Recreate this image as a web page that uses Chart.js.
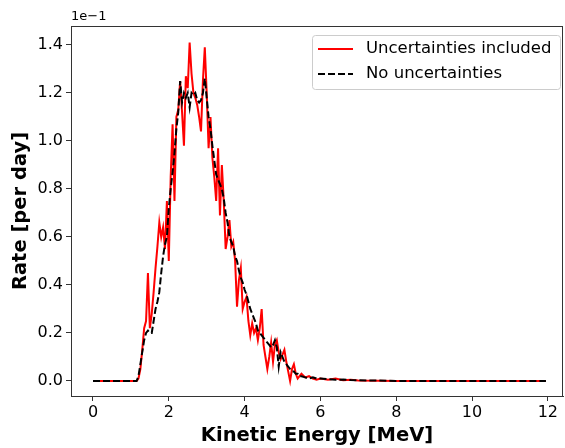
<!DOCTYPE html>
<html>
<head>
<meta charset="utf-8">
<script src="https://cdn.jsdelivr.net/npm/chart.js@4.4.1/dist/chart.umd.min.js"></script>
<style>
  html, body { margin: 0; padding: 0; background: #fff; }
  #wrap { width: 565px; height: 448px; }
</style>
</head>
<body>
<div id="wrap"><canvas id="rateChart" width="565" height="448"></canvas></div>
<script>
// energies in MeV, rates in units of 1e-1 per day
var energies = [0, 0.5, 1.0, 1.1,
  1.15, 1.2, 1.25, 1.3, 1.35, 1.4, 1.45, 1.5, 1.55, 1.6, 1.65, 1.7, 1.75, 1.8, 1.85, 1.9, 1.95,
  2.0, 2.05, 2.1, 2.15, 2.2, 2.25, 2.3, 2.35, 2.4, 2.45, 2.5, 2.55, 2.6, 2.65, 2.7, 2.75, 2.8, 2.85, 2.9, 2.95,
  3.0, 3.05, 3.1, 3.15, 3.2, 3.25, 3.3, 3.35, 3.4, 3.45, 3.5, 3.55, 3.6, 3.65, 3.7, 3.75, 3.8, 3.85, 3.9, 3.95,
  4.0, 4.05, 4.1, 4.15, 4.2, 4.25, 4.3, 4.35, 4.4, 4.45, 4.5, 4.55, 4.6, 4.65, 4.7, 4.75, 4.8, 4.85, 4.9, 4.95,
  5.0, 5.05, 5.1, 5.15, 5.2, 5.25, 5.3, 5.35, 5.4, 5.45, 5.5,
  5.6, 5.7, 5.8, 5.9, 6.0, 6.2, 6.4, 6.6, 6.8, 7.0, 7.5, 8.0, 9.0, 10.0, 11.0, 11.95];

var withUncertainty = [0, 0, 0, 0,
  0, 0.01, 0.05, 0.13, 0.22, 0.25, 0.45, 0.22, 0.28, 0.37, 0.47, 0.56, 0.66, 0.6, 0.64, 0.55, 0.75,
  0.5, 0.85, 1.07, 0.75, 1.1, 1.13, 1.25, 1.12, 0.98, 1.27, 1.22, 1.41, 1.28, 1.2, 1.18, 1.15, 1.1, 1.04, 1.25, 1.39,
  1.2, 0.97, 1.1, 0.93, 0.85, 0.75, 0.97, 0.69, 0.9, 0.75, 0.55, 0.6, 0.67, 0.56, 0.58, 0.5, 0.31, 0.42, 0.47, 0.3,
  0.33, 0.35, 0.25, 0.19, 0.24, 0.2, 0.22, 0.17, 0.22, 0.3, 0.15, 0.1, 0.05, 0.1, 0.16, 0.08, 0.15, 0.17, 0.12, 0.09,
  0.11, 0.13, 0.08, 0.04, 0.0, 0.05, 0.07, 0.03, 0.01, 0.02, 0.03,
  0.015, 0.02, 0.01, 0.005, 0.01, 0.005, 0.01, 0.003, 0.005, 0.002, 0.001, 0, 0, 0, 0, 0];

var noUncertainty = [0, 0, 0, 0,
  0, 0.02, 0.07, 0.12, 0.17, 0.2, 0.21, 0.2, 0.2, 0.25, 0.3, 0.33, 0.37, 0.45, 0.52, 0.57, 0.6,
  0.72, 0.8, 0.87, 0.95, 1.05, 1.12, 1.25, 1.16, 1.2, 1.18, 1.2, 1.14, 1.2, 1.19, 1.2, 1.17, 1.16, 1.17, 1.2, 1.26,
  1.18, 1.1, 1.05, 0.98, 0.92, 0.86, 0.84, 0.82, 0.8, 0.76, 0.7, 0.66, 0.6, 0.58, 0.56, 0.52, 0.5, 0.46, 0.43, 0.41,
  0.38, 0.36, 0.33, 0.3, 0.28, 0.26, 0.24, 0.21, 0.2, 0.19, 0.18, 0.17, 0.16, 0.15, 0.14, 0.15, 0.17, 0.14, 0.06, 0.12,
  0.1, 0.08, 0.07, 0.06, 0.05, 0.04, 0.04, 0.03, 0.03, 0.02, 0.02,
  0.015, 0.01, 0.015, 0.01, 0.01, 0.008, 0.005, 0.006, 0.004, 0.003, 0.002, 0, 0, 0, 0, 0];

var xTicks = [0, 2, 4, 6, 8, 10, 12];
var yTicks = [0, 0.2, 0.4, 0.6, 0.8, 1.0, 1.2, 1.4];
var seriesLabels = ["Uncertainties included", "No uncertainties"];

var font = "'DejaVu Sans', sans-serif";
var axisColor = "#333";

function toPoints(xs, ys) {
    var pts = [];
    for (var i = 0; i < xs.length; i++) {
        pts.push({x: xs[i], y: ys[i]});
    }
    return pts;
}

// frame, offset text and matplotlib style legend
var extras = {
    id: "extras",
    afterDraw: function(chart) {
        var ctx = chart.ctx;
        var a = chart.chartArea;
        ctx.save();
        ctx.strokeStyle = axisColor;
        ctx.lineWidth = 1;
        ctx.strokeRect(a.left + 0.5, a.top + 0.5, a.right - a.left - 1, a.bottom - a.top);

        ctx.fillStyle = "#000";
        ctx.font = "13px " + font;
        ctx.textAlign = "left";
        ctx.textBaseline = "bottom";
        ctx.fillText("1e\u22121", a.left, a.top - 3);

        // legend box
        var bx = 312, by = 35, bw = 248, bh = 54;
        ctx.fillStyle = "rgba(255,255,255,0.8)";
        ctx.strokeStyle = "#ccc";
        ctx.beginPath();
        ctx.roundRect(bx + 0.5, by + 0.5, bw, bh, 3);
        ctx.fill();
        ctx.stroke();
        ctx.font = "16.5px " + font;
        ctx.textBaseline = "middle";
        var rows = [by + 14, by + 39];
        chart.data.datasets.forEach(function(ds, i) {
            ctx.strokeStyle = ds.borderColor;
            ctx.lineWidth = 2;
            ctx.setLineDash(ds.borderDash || []);
            ctx.beginPath();
            ctx.moveTo(bx + 6, rows[i]);
            ctx.lineTo(bx + 41, rows[i]);
            ctx.stroke();
            ctx.setLineDash([]);
            ctx.fillStyle = "#000";
            ctx.fillText(ds.label, bx + 54, rows[i]);
        });
        ctx.restore();
    }
};

var rateChart = new Chart(document.getElementById("rateChart"), {
    type: "line",
    data: {
        datasets: [{
            label: seriesLabels[0],
            data: toPoints(energies, withUncertainty),
            borderColor: "#ff0000",
            borderWidth: 2,
            pointRadius: 0,
            tension: 0,
            order: 2
        }, {
            label: seriesLabels[1],
            data: toPoints(energies, noUncertainty),
            borderColor: "#000000",
            borderWidth: 2,
            borderDash: [7, 3],
            pointRadius: 0,
            tension: 0,
            order: 1
        }]
    },
    options: {
        responsive: false,
        animation: false,
        layout: { padding: { top: 26, right: 2, left: 0, bottom: 0 } },
        plugins: {
            legend: { display: false },
            tooltip: { enabled: false }
        },
        scales: {
            x: {
                type: "linear",
                min: -0.58,
                max: 12.4,
                afterBuildTicks: function(axis) {
                    axis.ticks = xTicks.map(function(v) { return {value: v}; });
                },
                afterFit: function(axis) { axis.height = 52; },
                grid: { drawOnChartArea: false, drawTicks: true, tickLength: 5, color: axisColor },
                border: { display: true, color: axisColor, width: 1 },
                ticks: {
                    color: "#000",
                    font: { family: font, size: 16 },
                    padding: 2,
                    maxRotation: 0,
                    callback: function(v) { return String(v); }
                },
                title: {
                    display: true,
                    text: "Kinetic Energy [MeV]",
                    color: "#000",
                    font: { family: font, size: 19.5, weight: "bold" },
                    padding: { top: 0, bottom: 0 }
                }
            },
            y: {
                min: -0.0625,
                max: 1.479,
                afterBuildTicks: function(axis) {
                    axis.ticks = yTicks.map(function(v) { return {value: v}; });
                },
                afterFit: function(axis) { axis.width = 71; },
                grid: { drawOnChartArea: false, drawTicks: true, tickLength: 5, color: axisColor },
                border: { display: true, color: axisColor, width: 1 },
                ticks: {
                    color: "#000",
                    font: { family: font, size: 16 },
                    padding: 3,
                    callback: function(v) { return v.toFixed(1); }
                },
                title: {
                    display: true,
                    text: "Rate [per day]",
                    color: "#000",
                    font: { family: font, size: 19.5, weight: "bold" },
                    padding: { top: 9, bottom: 0 }
                }
            }
        }
    },
    plugins: [extras]
});
</script>
</body>
</html>
